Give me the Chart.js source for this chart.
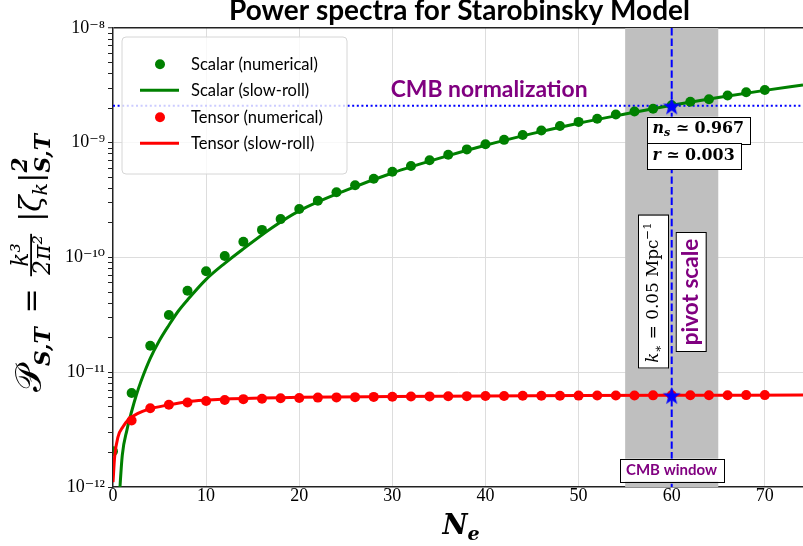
<!DOCTYPE html>
<html>
<head>
<meta charset="utf-8">
<script src="https://cdn.jsdelivr.net/npm/chart.js@4.4.0/dist/chart.umd.min.js"></script>
<style>html,body{margin:0;padding:0;background:#fff;}canvas{display:block;}</style>
</head>
<body>
<canvas id="c" width="803" height="546"></canvas>
<script>
// ---------------- data ----------------
const nNumerical = [0,2,4,6,8,10,12,14,16,18,20,22,24,26,28,30,32,34,36,38,40,42,44,46,48,50,52,54,56,58,60,62,64,66,68,70];
const scalarNumerical = [2.05e-12,6.6e-12,1.70e-11,3.16e-11,5.14e-11,7.6e-11,1.03e-10,1.37e-10,1.74e-10,2.16e-10,2.65e-10,3.13e-10,3.70e-10,4.26e-10,4.86e-10,5.58e-10,6.27e-10,7.05e-10,7.85e-10,8.75e-10,9.7e-10,1.06e-9,1.17e-9,1.28e-9,1.40e-9,1.52e-9,1.62e-9,1.76e-9,1.87e-9,1.98e-9,2.12e-9,2.28e-9,2.39e-9,2.58e-9,2.75e-9,2.88e-9];
const tensorNumerical = [0.9e-12,3.8e-12,4.85e-12,5.2e-12,5.45e-12,5.62e-12,5.73e-12,5.83e-12,5.88e-12,5.93e-12,5.97e-12,6.01e-12,6.04e-12,6.07e-12,6.1e-12,6.12e-12,6.14e-12,6.16e-12,6.18e-12,6.19e-12,6.21e-12,6.22e-12,6.23e-12,6.24e-12,6.25e-12,6.26e-12,6.27e-12,6.27e-12,6.28e-12,6.29e-12,6.3e-12,6.3e-12,6.31e-12,6.31e-12,6.32e-12,6.32e-12];
const nScalarSlowRoll = [0.6,0.75,1.0,1.5,2.0,2.5,3.0,4.0,5.0,6.0,7.0,8.0,10,12,14,17,20,25,30,35,40,45,50,55,60,65,70,74.1];
const scalarSlowRoll = [6e-13,1.0e-12,1.9e-12,3.15e-12,4.55e-12,6.3e-12,8.3e-12,1.32e-11,1.9e-11,2.57e-11,3.4e-11,4.27e-11,6.45e-11,8.9e-11,1.19e-10,1.8e-10,2.55e-10,3.85e-10,5.45e-10,7.3e-10,9.5e-10,1.2e-9,1.48e-9,1.78e-9,2.12e-9,2.48e-9,2.86e-9,3.18e-9];
const nTensorSlowRoll = [0,0.18,0.54,1.07,1.61,2.68,3.76,5.9,8.0,10.2,12.1,20,30,40,50,60,74.1];
const tensorSlowRoll = [1.1e-12,1.84e-12,2.74e-12,3.35e-12,3.83e-12,4.38e-12,4.75e-12,5.18e-12,5.54e-12,5.73e-12,5.85e-12,6.05e-12,6.15e-12,6.22e-12,6.27e-12,6.3e-12,6.33e-12];
const pivotN = 60;
const cmbWindow = [55, 65];
const cmbNormalization = 2.1e-9;
const pivotTensor = 6.3e-12;
const xMin = 0, xMax = 74.1;
const yMin = 1e-12, yMax = 1e-8;
const xTickValues = [0,10,20,30,40,50,60,70];
const yMajorTicks = [1e-12,1e-11,1e-10,1e-9,1e-8];
const yTickLabels = ['10⁻¹²','10⁻¹¹','10⁻¹⁰','10⁻⁹','10⁻⁸'];
const legendLabels = ['Scalar (numerical)','Scalar (slow-roll)','Tensor (numerical)','Tensor (slow-roll)'];
const titleText = 'Power spectra for Starobinsky Model';

// ---------------- styles ----------------
const GREEN = '#008000', RED = '#ff0000', BLUE = '#0000ff', PURPLE = '#800080';
const SERIF = '"DejaVu Serif", "Liberation Serif", serif';
const SANS = 'Lato, "DejaVu Sans", sans-serif';

function pts(xs, ys){ return xs.map((x,i)=>({x:x, y:ys[i]})); }

function makeStar(r, color){
  const size = Math.ceil(2*r+2);
  const c = document.createElement('canvas'); c.width = size; c.height = size;
  const g = c.getContext('2d');
  g.translate(size/2, size/2 + r*0.1);
  g.beginPath();
  for (let i=0;i<10;i++){
    const a = -Math.PI/2 + i*Math.PI/5;
    const rr = (i%2===0) ? r : r*0.40;
    g.lineTo(rr*Math.cos(a), rr*Math.sin(a));
  }
  g.closePath(); g.fillStyle = color; g.fill();
  return c;
}
const starImg = makeStar(9.5, BLUE);

// ------------- rich text helpers -------------
function fontStr(r, s){ return (r.style||'normal')+' '+(r.weight||'normal')+' '+(r.size*s).toFixed(2)+'px '+(r.family||SERIF); }
function runWidth(ctx, r, s){
  if (r.frac){
    ctx.font = fontStr(r, s); const a = ctx.measureText(r.num).width, b = ctx.measureText(r.den).width;
    return Math.max(a,b) + 0.25*s;
  }
  if (r.supsub){
    ctx.font = fontStr(r, s); return Math.max(ctx.measureText(r.sup).width, ctx.measureText(r.sub).width) + 0.1*s;
  }
  ctx.font = fontStr(r, s); return ctx.measureText(r.t).width + (r.gap||0)*s;
}
function runsWidth(ctx, runs, s){ let w=0; for (const r of runs) w += runWidth(ctx, r, s); return w; }
function drawRuns(ctx, runs, x, y, s, align, color){
  const w = runsWidth(ctx, runs, s);
  let cx = align==='center' ? x - w/2 : (align==='right' ? x - w : x);
  ctx.textBaseline = 'alphabetic'; ctx.textAlign = 'left';
  for (const r of runs){
    const rw = runWidth(ctx, r, s);
    ctx.font = fontStr(r, s); ctx.fillStyle = r.color || color || '#000';
    if (r.frac){
      const a = ctx.measureText(r.num).width, b = ctx.measureText(r.den).width;
      const mid = cx + rw/2;
      const barY = y - 0.32*s;
      ctx.fillText(r.num, mid - a/2, barY - 0.1*s);
      ctx.fillText(r.den, mid - b/2, barY + 0.62*s);
      ctx.fillRect(cx + 0.08*s, barY - 0.03*s, rw - 0.16*s, Math.max(1, 0.06*s));
    } else if (r.supsub){
      ctx.fillText(r.sup, cx, y - 0.45*s);
      ctx.fillText(r.sub, cx, y + 0.3*s);
    } else {
      ctx.fillText(r.t, cx, y + (r.dy||0)*s);
    }
    cx += rw;
  }
  return w;
}
function fitScale(ctx, runs, target){ return target / runsWidth(ctx, runs, 1); }
function box(ctx, x0, y0, x1, y1){
  ctx.save(); ctx.fillStyle = '#fff'; ctx.fillRect(x0, y0, x1-x0, y1-y0);
  ctx.strokeStyle = '#000'; ctx.lineWidth = 1; ctx.strokeRect(Math.round(x0)+0.5, Math.round(y0)+0.5, Math.round(x1-x0), Math.round(y1-y0));
  ctx.restore();
}

// ------------- plugins -------------
const backgroundPlugin = {
  id: 'bg',
  beforeDraw(chart){ const c = chart.ctx; c.save(); c.fillStyle = '#fff'; c.fillRect(0,0,chart.width,chart.height); c.restore(); },
  beforeDatasetsDraw(chart){
    const c = chart.ctx, a = chart.chartArea, xs = chart.scales.x, ys = chart.scales.y;
    c.save();
    c.beginPath(); c.rect(a.left, a.top, a.right-a.left, a.bottom-a.top); c.clip();
    const xa = xs.getPixelForValue(cmbWindow[0]), xb = xs.getPixelForValue(cmbWindow[1]);
    c.fillStyle = '#bfbfbf'; c.fillRect(xa, a.top, xb-xa, a.bottom-a.top);
    const yn = ys.getPixelForValue(cmbNormalization);
    c.strokeStyle = BLUE; c.lineWidth = 2; c.setLineDash([2, 2.6]);
    c.beginPath(); c.moveTo(a.left, yn); c.lineTo(a.right, yn); c.stroke();
    const xp = xs.getPixelForValue(pivotN);
    c.setLineDash([7.4, 3.2]);
    c.beginPath(); c.moveTo(xp, a.top); c.lineTo(xp, a.bottom); c.stroke();
    c.restore();
  },
  afterDraw(chart){
    const c = chart.ctx, a = chart.chartArea, xs = chart.scales.x;
    const xp = xs.getPixelForValue(pivotN);
    c.save();
    const tr = [{t:titleText, size:1, weight:'bold', family:SANS}];
    drawRuns(c, tr, 459.5, 19.5, fitScale(c, tr, 461), 'center', '#000');

    const cr = [{t:'CMB normalization', size:1, weight:'bold', family:SANS}];
    drawRuns(c, cr, 390.7, 96.5, fitScale(c, cr, 197), 'left', PURPLE);

    const nr = [{t:'n', size:1, style:'italic', weight:'bold'},{t:'s', size:0.7, style:'italic', weight:'bold', dy:0.22},{t:' ≃ 0.967', size:1, weight:'bold'}];
    const ns = fitScale(c, nr, 91.6);
    const rr = [{t:'r', size:1, style:'italic', weight:'bold'},{t:' ≃ 0.003', size:1, weight:'bold'}];
    const wn = runsWidth(c, nr, ns), wr = runsWidth(c, rr, ns);
    const tx = xp - 19.3;
    box(c, tx-5, 116.7, tx+wn+6.7, 143.3);
    drawRuns(c, nr, tx, 133, ns, 'left', '#000');
    box(c, tx-5, 143.3, tx+wr+6.7, 169.3);
    drawRuns(c, rr, tx, 159.5, ns, 'left', '#000');

    const kr = [{t:'k', size:1, style:'italic'},{t:'∗', size:0.7, dy:0.22},{t:' = 0.05 Mpc', size:1},{t:'−1', size:0.7, dy:-0.42}];
    const ks = fitScale(c, kr, 140);
    c.save(); c.translate(xp - 18.7, 292.5); c.rotate(-Math.PI/2);
    box(c, -76.5, -15, 76.5, 15);
    drawRuns(c, kr, 0, 0.32*ks, ks, 'center', '#000');
    c.restore();

    const pr = [{t:'pivot scale', size:1, weight:'bold', family:SANS}];
    const ps = fitScale(c, pr, 106.7);
    c.save(); c.translate(xp + 19, 292); c.rotate(-Math.PI/2);
    box(c, -59.7, -15, 59.7, 15);
    drawRuns(c, pr, 0, 0.33*ps, ps, 'center', PURPLE);
    c.restore();

    const wrn = [{t:'CMB window', size:1, weight:'bold', family:SANS}];
    const wsc = fitScale(c, wrn, 91);
    box(c, xp - 52, 458.7, xp + 51.7, 481.7);
    drawRuns(c, wrn, xp - 0.2, 470.2 + 0.35*wsc, wsc, 'center', PURPLE);

    // legend
    c.save();
    const lx0 = 122, ly0 = 37, lx1 = 347, ly1 = 174, rad = 4;
    c.beginPath();
    c.moveTo(lx0+rad, ly0); c.lineTo(lx1-rad, ly0); c.quadraticCurveTo(lx1, ly0, lx1, ly0+rad);
    c.lineTo(lx1, ly1-rad); c.quadraticCurveTo(lx1, ly1, lx1-rad, ly1);
    c.lineTo(lx0+rad, ly1); c.quadraticCurveTo(lx0, ly1, lx0, ly1-rad);
    c.lineTo(lx0, ly0+rad); c.quadraticCurveTo(lx0, ly0, lx0+rad, ly0); c.closePath();
    c.fillStyle = 'rgba(255,255,255,0.8)'; c.fill();
    c.strokeStyle = '#d6d6d6'; c.lineWidth = 1; c.stroke();
    const rowsY = [64.3, 90.3, 117.3, 143.3];
    const lcol = [GREEN, GREEN, RED, RED];
    const isDot = [true, false, true, false];
    const lsc = fitScale(c, [{t:legendLabels[0], size:1, family:SANS}], 127);
    for (let i=0;i<4;i++){
      const y = rowsY[i];
      if (isDot[i]){ c.beginPath(); c.arc(160, y, 5, 0, 2*Math.PI); c.fillStyle = lcol[i]; c.fill(); }
      else { c.strokeStyle = lcol[i]; c.lineWidth = 3; c.setLineDash([]); c.beginPath(); c.moveTo(140, y); c.lineTo(179, y); c.stroke(); }
      drawRuns(c, [{t:legendLabels[i], size:1, family:SANS}], 191, y + 0.36*lsc, lsc, 'left', '#000');
    }
    c.restore();

    const xr = [{t:'N', size:1, style:'italic', weight:'bold'},{t:'e', size:0.7, style:'italic', weight:'bold', dy:0.25}];
    drawRuns(c, xr, 461, 533.5, fitScale(c, xr, 37), 'center', '#000');

    const yr = [
      {t:'𝒫', size:1.2, family:'"DejaVu Sans", "DejaVu Serif", serif'},
      {t:'S,T', size:0.72, style:'italic', weight:'bold', dy:0.3, gap:0.15},
      {t:' = ', size:1},
      {frac:true, num:'k³', den:'2π²', size:0.78, style:'italic'},
      {t:' |ζ', size:1, style:'italic'},
      {t:'k', size:0.7, style:'italic', dy:0.22},
      {t:'|', size:1},
      {supsub:true, sup:'2', sub:'S,T', size:0.72, style:'italic', weight:'bold'}
    ];
    const ysc = fitScale(c, yr, 264);
    c.save(); c.translate(31.7 + 0.3*ysc, (a.top+a.bottom)/2 + 4); c.rotate(-Math.PI/2);
    drawRuns(c, yr, 0, 0, ysc, 'center', '#000');
    c.restore();

    c.restore();
  }
};

function isMajor(v){ return yMajorTicks.some(m => Math.abs(v/m - 1) < 1e-6); }

const ctx = document.getElementById('c').getContext('2d');
new Chart(ctx, {
  type: 'scatter',
  data: {
    datasets: [
      { label:'pivot', data:[{x:pivotN, y:cmbNormalization},{x:pivotN, y:pivotTensor}], pointStyle:starImg, pointRadius:10, showLine:false, order:0, clip:0 },
      { label:legendLabels[2], data:pts(nNumerical, tensorNumerical), backgroundColor:RED, borderWidth:0, pointRadius:5, showLine:false, order:1, clip:0 },
      { label:legendLabels[3], data:pts(nTensorSlowRoll, tensorSlowRoll), borderColor:RED, borderWidth:3, pointRadius:0, showLine:true, cubicInterpolationMode:'monotone', order:2, clip:0 },
      { label:legendLabels[0], data:pts(nNumerical, scalarNumerical), backgroundColor:GREEN, borderWidth:0, pointRadius:5, showLine:false, order:3, clip:0 },
      { label:legendLabels[1], data:pts(nScalarSlowRoll, scalarSlowRoll), borderColor:GREEN, borderWidth:3, pointRadius:0, showLine:true, cubicInterpolationMode:'monotone', order:4, clip:0 }
    ]
  },
  options: {
    responsive:false, animation:false, devicePixelRatio:1,
    layout:{ autoPadding:false, padding:{ top:28, left:0, right:0, bottom:0 } },
    plugins:{ legend:{display:false}, tooltip:{enabled:false}, title:{display:false} },
    elements:{ point:{ hoverRadius:0 } },
    scales:{
      x:{
        type:'linear', min:xMin, max:xMax,
        afterBuildTicks: s => { s.ticks = xTickValues.map(v => ({value:v})); },
        afterFit: s => { s.height = 59; s.paddingLeft = 0; s.paddingRight = 0; },
        ticks:{ font:{ family:'"Liberation Serif", serif', size:18 }, color:'#000', padding:-2, maxRotation:0, autoSkip:false, callback: v => String(v) },
        grid:{ color: c => (c.tick && c.tick.value === 0) ? 'rgba(0,0,0,0)' : '#dddddd', lineWidth:1, drawTicks:false },
        border:{ color:'#222', width:1.5 }
      },
      y:{
        type:'logarithmic', min:yMin, max:yMax,
        afterBuildTicks: s => {
          const t = [];
          for (let i=0;i<yMajorTicks.length;i++){
            t.push({value:yMajorTicks[i]});
            if (i < yMajorTicks.length-1) for (let m=2;m<=9;m++) t.push({value:m*yMajorTicks[i]});
          }
          s.ticks = t;
        },
        afterFit: s => { s.width = 113; s.paddingTop = 0; s.paddingBottom = 0; },
        ticks:{ font:{ family:'"Liberation Serif", "DejaVu Serif", serif', size:18 }, color:'#000', padding:3, autoSkip:false,
          callback: v => { const i = yMajorTicks.findIndex(m => Math.abs(v/m-1) < 1e-6); return i >= 0 ? yTickLabels[i] : ''; } },
        grid:{
          color: c => { if (!c.tick) return 'rgba(0,0,0,0)'; const v = c.tick.value; if (Math.abs(v/yMax-1)<1e-6) return '#222'; if (Math.abs(v/yMin-1)<1e-6) return 'rgba(0,0,0,0)'; return isMajor(v) ? '#dddddd' : 'rgba(0,0,0,0)'; },
          lineWidth: c => (c.tick && Math.abs(c.tick.value/yMax-1)<1e-6) ? 1.5 : 1,
          drawTicks:true, tickLength:5, tickColor:'#222', tickWidth:1
        },
        border:{ color:'#222', width:1.5 }
      }
    }
  },
  plugins:[backgroundPlugin]
});
</script>
</body>
</html>
